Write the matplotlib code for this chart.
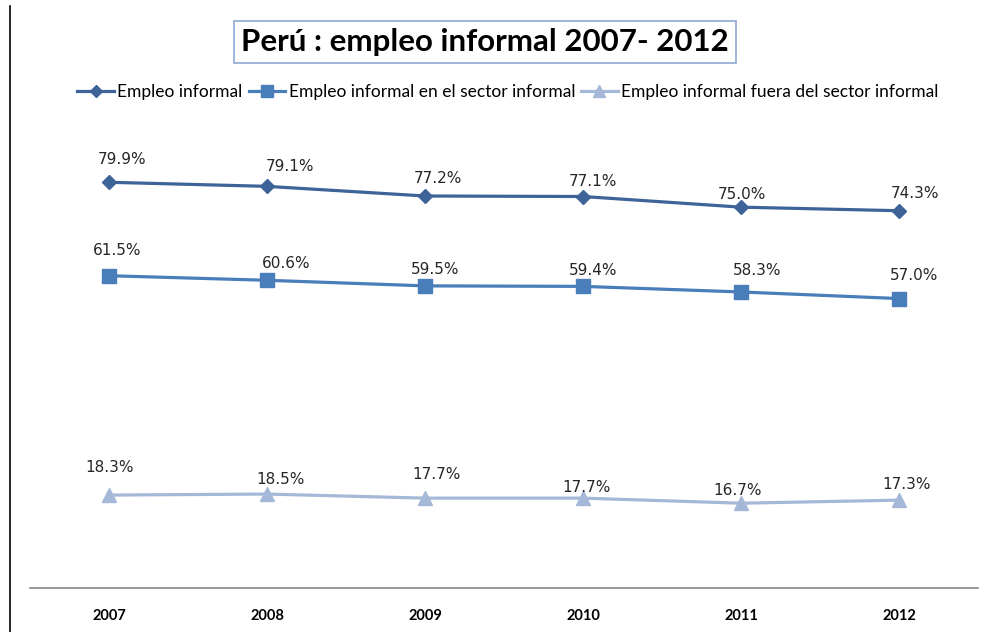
import matplotlib
matplotlib.use("Agg")
import matplotlib.pyplot as plt
from matplotlib.lines import Line2D

years = ["2007", "2008", "2009", "2010", "2011", "2012"]
series_names = [
    "Empleo informal",
    "Empleo informal en el sector informal",
    "Empleo informal fuera del sector informal",
]
empleo_informal = [79.9, 79.1, 77.2, 77.1, 75.0, 74.3]
sector_informal = [61.5, 60.6, 59.5, 59.4, 58.3, 57.0]
fuera_sector = [18.3, 18.5, 17.7, 17.7, 16.7, 17.3]
title = "Perú : empleo informal 2007- 2012"

colors = ["#3D6399", "#4A7EBB", "#A5B8D8"]
markers = ["D", "s", "^"]
marker_sizes = [7, 10, 10]
# label nudges (pixels) for each point, per series
label_offsets = [
    [(13, 23), (23, 20), (13, 17), (10, 15), (1, 13), (16, 17)],
    [(8, 25), (19, 17), (10, 16), (10, 16), (16, 21), (15, 23)],
    [(1, 28), (13, 15), (12, 24), (3, 11), (-3, 13), (8, 16)],
]

fig = plt.figure(figsize=(9.88, 6.32), dpi=100)
W, H = 988, 632
ax = fig.add_axes([30 / W, 44 / H, 948 / W, 457 / H])

x = list(range(len(years)))
all_series = [empleo_informal, sector_informal, fuera_sector]
for vals, c, m, ms, offs in zip(all_series, colors, markers, marker_sizes, label_offsets):
    ax.plot(x, vals, color=c, lw=2.3, marker=m, markersize=ms,
            markerfacecolor=c, markeredgecolor=c, clip_on=False, zorder=3)
    for xi, v, (dx, dy) in zip(x, vals, offs):
        ax.annotate(f"{v:.1f}%", (xi, v), xytext=(dx, dy),
                    textcoords="offset pixels", ha="center", va="center",
                    fontsize=11, color="#262626", family="DejaVu Sans",
                    annotation_clip=False)

ax.set_xlim(-0.5, len(years) - 0.5)
ax.set_ylim(0, 90)
ax.set_xticks(x)
ax.set_xticklabels(years, fontsize=10.5, fontweight="bold", family="Lato")
ax.tick_params(axis="x", length=0, pad=15)
ax.set_yticks([])
for s in ["left", "right", "top"]:
    ax.spines[s].set_visible(False)
ax.spines["bottom"].set_color("#868686")
ax.spines["bottom"].set_linewidth(1.2)

# title box
fig.text(485 / W, 1 - 42 / H, title, ha="center", va="center",
         fontsize=22.5, fontweight="bold", family="Lato",
         bbox=dict(boxstyle="square,pad=0.22", fc="white", ec="#8EA9D4", lw=1.2))

handles = [Line2D([0], [0], color=c, lw=2.3, marker=m, markersize=ms * 0.85,
                  markerfacecolor=c, markeredgecolor=c)
           for c, m, ms in zip(colors, markers, marker_sizes)]
fig.legend(handles, series_names, loc="center", bbox_to_anchor=(508 / W, 1 - 92 / H),
           ncol=3, frameon=False, handlelength=2.1, handletextpad=0.2,
           columnspacing=0.35, prop={"family": "Lato", "size": 12.5})

# chart area left border
fig.add_artist(Line2D([10 / W, 10 / W], [0, 1 - 6 / H], color="black", lw=1.2,
                      transform=fig.transFigure))

fig.savefig("out.png", dpi=100)
